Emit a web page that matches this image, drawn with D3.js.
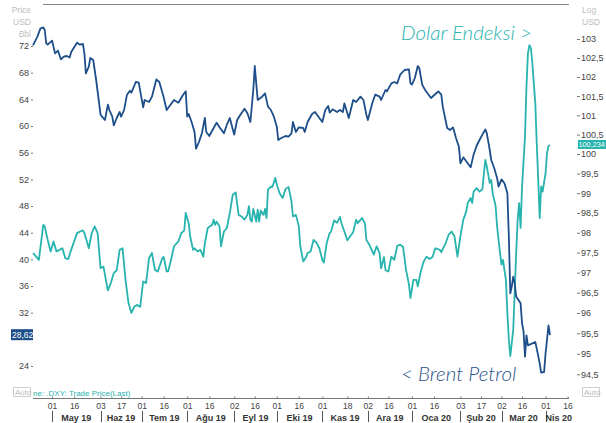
<!DOCTYPE html>
<html>
<head>
<meta charset="utf-8">
<script src="https://cdn.jsdelivr.net/npm/d3@7"></script>
<style>
  html, body { margin: 0; padding: 0; background: #fff; }
  svg { display: block; font-family: "Liberation Sans Narrow", "Liberation Sans", Arial, sans-serif; }
</style>
</head>
<body>
<div id="chart"></div>
<script>
// Brent (left axis, USD/Bbl)
const brentDates = [
  '2019-04-18','2019-04-21','2019-04-23','2019-04-25','2019-04-26','2019-04-27','2019-04-28','2019-05-01','2019-05-03','2019-05-05',
  '2019-05-07','2019-05-09','2019-05-11','2019-05-13','2019-05-14','2019-05-18','2019-05-20','2019-05-22','2019-05-23','2019-05-24',
  '2019-05-26','2019-05-27','2019-05-29','2019-05-31','2019-06-03','2019-06-04','2019-06-06','2019-06-08','2019-06-09','2019-06-11',
  '2019-06-12','2019-06-14','2019-06-16','2019-06-17','2019-06-19','2019-06-21','2019-06-23','2019-06-24','2019-06-27','2019-06-29',
  '2019-07-02','2019-07-03','2019-07-06','2019-07-08','2019-07-11','2019-07-13','2019-07-16','2019-07-18','2019-07-20','2019-07-23',
  '2019-07-26','2019-07-29','2019-07-31','2019-08-01','2019-08-02','2019-08-04','2019-08-06','2019-08-07','2019-08-09','2019-08-11',
  '2019-08-13','2019-08-14','2019-08-16','2019-08-19','2019-08-21','2019-08-23','2019-08-26','2019-08-28','2019-08-30','2019-09-02',
  '2019-09-04','2019-09-06','2019-09-09','2019-09-11','2019-09-13','2019-09-15','2019-09-16','2019-09-17','2019-09-18','2019-09-21',
  '2019-09-23','2019-09-25','2019-09-27','2019-09-29','2019-10-01','2019-10-02','2019-10-04','2019-10-07','2019-10-09','2019-10-11',
  '2019-10-12','2019-10-14','2019-10-16','2019-10-19','2019-10-20','2019-10-22','2019-10-25','2019-10-27','2019-10-29','2019-11-01',
  '2019-11-03','2019-11-05','2019-11-06','2019-11-08','2019-11-11','2019-11-13','2019-11-15','2019-11-16','2019-11-19','2019-11-22',
  '2019-11-24','2019-11-27','2019-11-29','2019-12-01','2019-12-02','2019-12-05','2019-12-07','2019-12-10','2019-12-11','2019-12-14',
  '2019-12-15','2019-12-18','2019-12-20','2019-12-22','2019-12-24','2019-12-27','2019-12-30','2019-12-31','2020-01-01','2020-01-03',
  '2020-01-05','2020-01-06','2020-01-08','2020-01-10','2020-01-13','2020-01-14','2020-01-17','2020-01-19','2020-01-21','2020-01-22',
  '2020-01-25','2020-01-27','2020-01-29','2020-01-31','2020-02-02','2020-02-03','2020-02-05','2020-02-07','2020-02-10','2020-02-12',
  '2020-02-14','2020-02-16','2020-02-18','2020-02-20','2020-02-21','2020-02-23','2020-02-24','2020-02-26','2020-02-28','2020-02-29',
  '2020-03-02','2020-03-04','2020-03-06','2020-03-07','2020-03-08','2020-03-09','2020-03-10','2020-03-11','2020-03-12','2020-03-13',
  '2020-03-15','2020-03-16','2020-03-17','2020-03-18','2020-03-19','2020-03-20','2020-03-23','2020-03-25','2020-03-26','2020-03-28',
  '2020-03-29','2020-03-31','2020-04-01','2020-04-03','2020-04-04'
]
const brentValues = [
  72.1, 73.4, 74.6, 74.8, 74.4, 72.4, 72.2, 72.8, 70.9, 71.3,
  70.0, 70.4, 70.5, 70.3, 71.1, 72.5, 72.2, 72.3, 70.9, 67.9,
  68.9, 70.2, 69.9, 66.9, 61.7, 61.4, 60.9, 63.2, 62.4, 61.4,
  60.1, 61.2, 62.1, 61.4, 62.4, 64.7, 65.3, 65.0, 66.6, 66.5,
  62.8, 63.9, 63.6, 64.4, 67.0, 66.6, 64.3, 62.4, 63.0, 63.9,
  63.5, 64.6, 65.2, 61.4, 61.8, 60.6, 59.1, 56.6, 57.6, 58.9,
  61.2, 59.1, 58.5, 59.7, 60.5, 59.8, 58.9, 60.2, 61.2, 58.7,
  60.9, 61.6, 62.6, 61.9, 60.6, 65.4, 69.0, 66.4, 63.9, 64.4,
  64.9, 62.9, 62.4, 61.4, 59.9, 57.9, 58.2, 58.5, 58.4, 58.9,
  60.6, 59.1, 59.8, 59.7, 59.1, 60.6, 61.8, 62.1, 61.5, 60.6,
  62.4, 63.0, 62.0, 62.5, 62.1, 62.4, 62.1, 63.4, 61.2, 63.9,
  63.6, 64.4, 63.9, 61.7, 60.9, 63.4, 64.7, 64.4, 63.9, 65.4,
  65.2, 66.4, 66.6, 66.4, 67.7, 68.4, 68.5, 66.4, 66.2, 67.2,
  69.0, 68.7, 66.2, 65.4, 64.5, 64.2, 64.8, 65.2, 64.7, 62.9,
  59.7, 59.4, 59.8, 58.2, 56.9, 54.4, 55.3, 54.7, 53.8, 55.7,
  57.0, 57.9, 58.7, 59.5, 58.9, 56.4, 54.9, 53.7, 52.2, 50.9,
  52.0, 51.4, 49.9, 43.4, 34.9, 35.9, 37.4, 36.4, 34.4, 34.1,
  33.4, 30.4, 29.2, 25.4, 28.6, 27.1, 27.4, 27.6, 26.6, 24.4,
  23.0, 23.1, 25.9, 30.1, 28.62
]

// Dolar Endeksi (right axis, log)
const dxyDates = [
  '2019-04-18','2019-04-19','2019-04-22','2019-04-25','2019-04-26','2019-04-28','2019-04-30','2019-05-02','2019-05-04','2019-05-06',
  '2019-05-08','2019-05-10','2019-05-12','2019-05-14','2019-05-18','2019-05-20','2019-05-22','2019-05-23','2019-05-26','2019-05-28',
  '2019-05-30','2019-06-01','2019-06-03','2019-06-05','2019-06-07','2019-06-08','2019-06-10','2019-06-12','2019-06-14','2019-06-16',
  '2019-06-18','2019-06-20','2019-06-22','2019-06-24','2019-06-26','2019-06-28','2019-06-30','2019-07-02','2019-07-04','2019-07-06',
  '2019-07-08','2019-07-10','2019-07-12','2019-07-15','2019-07-16','2019-07-18','2019-07-19','2019-07-21','2019-07-23','2019-07-26',
  '2019-07-28','2019-07-30','2019-07-31','2019-08-02','2019-08-03','2019-08-05','2019-08-06','2019-08-08','2019-08-10','2019-08-12',
  '2019-08-13','2019-08-15','2019-08-18','2019-08-19','2019-08-20','2019-08-21','2019-08-23','2019-08-24','2019-08-26','2019-08-28',
  '2019-08-30','2019-09-01','2019-09-03','2019-09-05','2019-09-07','2019-09-09','2019-09-11','2019-09-12','2019-09-13','2019-09-14',
  '2019-09-15','2019-09-17','2019-09-18','2019-09-19','2019-09-20','2019-09-22','2019-09-23','2019-09-24','2019-09-25','2019-09-27',
  '2019-09-28','2019-09-30','2019-10-01','2019-10-03','2019-10-05','2019-10-07','2019-10-09','2019-10-11','2019-10-12','2019-10-14',
  '2019-10-16','2019-10-17','2019-10-19','2019-10-21','2019-10-22','2019-10-24','2019-10-26','2019-10-28','2019-10-30','2019-11-01',
  '2019-11-02','2019-11-04','2019-11-06','2019-11-07','2019-11-09','2019-11-11','2019-11-13','2019-11-14','2019-11-16','2019-11-18',
  '2019-11-20','2019-11-22','2019-11-24','2019-11-25','2019-11-28','2019-11-30','2019-12-01','2019-12-03','2019-12-06','2019-12-08',
  '2019-12-10','2019-12-11','2019-12-13','2019-12-14','2019-12-16','2019-12-18','2019-12-20','2019-12-22','2019-12-24','2019-12-26',
  '2019-12-28','2019-12-30','2019-12-31','2020-01-02','2020-01-04','2020-01-05','2020-01-07','2020-01-09','2020-01-11','2020-01-13',
  '2020-01-15','2020-01-17','2020-01-20','2020-01-21','2020-01-24','2020-01-26','2020-01-28','2020-01-30','2020-02-01','2020-02-03',
  '2020-02-05','2020-02-07','2020-02-08','2020-02-10','2020-02-11','2020-02-12','2020-02-14','2020-02-16','2020-02-18','2020-02-19',
  '2020-02-20','2020-02-21','2020-02-23','2020-02-24','2020-02-25','2020-02-27','2020-02-28','2020-03-01','2020-03-02','2020-03-03',
  '2020-03-05','2020-03-06','2020-03-07','2020-03-08','2020-03-10','2020-03-11','2020-03-12','2020-03-13','2020-03-14','2020-03-15',
  '2020-03-16','2020-03-18','2020-03-19','2020-03-20','2020-03-21','2020-03-22','2020-03-23','2020-03-25','2020-03-26','2020-03-27',
  '2020-03-28','2020-03-29','2020-03-30','2020-04-01','2020-04-02','2020-04-03','2020-04-04'
]
const dxyValues = [
  97.49, 97.45, 97.32, 98.20, 98.16, 97.82, 97.53, 97.78, 97.53, 97.57,
  97.61, 97.36, 97.34, 97.57, 97.99, 98.03, 98.06, 97.99, 97.61, 97.99,
  98.16, 97.99, 97.11, 97.15, 96.74, 96.56, 96.74, 96.99, 97.06, 97.57,
  97.61, 96.82, 96.25, 96.00, 96.16, 96.20, 96.15, 96.78, 96.74, 97.36,
  97.49, 97.07, 97.03, 97.36, 97.39, 97.03, 97.03, 97.32, 97.66, 97.78,
  97.99, 98.06, 98.50, 98.24, 97.91, 97.57, 97.61, 97.53, 97.57, 97.40,
  97.74, 98.12, 98.20, 98.33, 98.20, 98.28, 98.16, 97.66, 98.03, 98.12,
  98.50, 98.96, 99.02, 98.45, 98.41, 98.33, 98.45, 98.67, 98.33, 98.28,
  98.60, 98.28, 98.58, 98.28, 98.56, 98.45, 98.60, 98.37, 99.09, 99.17,
  99.16, 99.39, 99.22, 98.99, 98.88, 99.11, 99.16, 98.79, 98.41, 98.45,
  98.16, 97.66, 97.28, 97.39, 97.49, 97.53, 97.82, 97.75, 97.61, 97.32,
  97.25, 97.74, 97.99, 98.03, 98.31, 98.25, 98.40, 98.24, 98.03, 97.81,
  97.91, 98.01, 98.33, 98.24, 98.37, 98.24, 97.82, 97.70, 97.45, 97.66,
  97.49, 97.11, 97.39, 97.06, 97.03, 97.40, 97.32, 97.67, 97.70, 97.64,
  97.07, 96.70, 96.37, 96.82, 96.82, 96.66, 97.03, 97.28, 97.40, 97.34,
  97.39, 97.61, 97.57, 97.51, 97.74, 97.95, 98.03, 97.91, 97.40, 97.91,
  98.33, 98.54, 98.75, 98.88, 98.75, 99.04, 99.13, 99.04, 99.10, 99.50,
  99.85, 99.68, 99.26, 99.34, 99.00, 98.67, 98.16, 97.49, 97.20, 97.32,
  96.82, 96.00, 95.34, 94.94, 95.59, 96.57, 97.49, 98.33, 98.75, 98.12,
  99.17, 100.45, 101.75, 102.62, 102.84, 102.76, 102.36, 101.32, 100.28, 99.34,
  98.37, 99.17, 99.04, 99.51, 100.03, 100.21, 100.234
]

// 28 sits behind the last-value box in the reference, so it is not labelled
const leftTicks = [24, 32, 36, 40, 44, 48, 52, 56, 60, 64, 68, 72]
const rightTicks = [94.5, 95, 95.5, 96, 96.5, 97, 97.5, 98, 98.5, 99, 99.5, 100, 100.5, 101, 101.5, 102, 102.5, 103]
const dayTicks = [
  '2019-05-01','2019-05-16','2019-06-03','2019-06-17','2019-07-01','2019-07-16','2019-08-01','2019-08-16',
  '2019-09-02','2019-09-16','2019-10-01','2019-10-16','2019-11-01','2019-11-18','2019-12-02','2019-12-16',
  '2020-01-01','2020-01-16','2020-02-03','2020-02-17','2020-03-02','2020-03-16','2020-04-01','2020-04-16'
]
const monthStarts = ['2019-05-01','2019-06-03','2019-07-01','2019-08-01','2019-09-02','2019-10-01','2019-11-01','2019-12-02','2020-01-01','2020-02-03','2020-03-02','2020-04-01']
const monthLabels = ['May 19','Haz 19','Tem 19','Ağu 19','Eyl 19','Eki 19','Kas 19','Ara 19','Oca 20','Şub 20','Mar 20','Nis 20']

const width = 606
const height = 423
const brentColor = '#1d4e89'
const dxyColor = '#27b3ae'
const parse = d3.timeParse('%Y-%m-%d')

const svg = d3.select('#chart').append('svg')
  .attr('width', width)
  .attr('height', height)

const x = d3.scaleTime()
  .domain([parse('2019-04-18'), parse('2020-04-19')])
  .range([33, 572])
const yL = d3.scaleLinear().domain([24, 72]).range([366, 46])
const yR = d3.scaleLog().domain([94.5, 103]).range([374.3, 39])

// top frame line
svg.append('line')
  .attr('x1', 43).attr('x2', 569).attr('y1', 4.5).attr('y2', 4.5)
  .attr('stroke', '#8a8a8a').attr('stroke-width', 1)

// left axis
const leftAxis = svg.append('g')
  .attr('transform', 'translate(33,0)')
  .call(d3.axisLeft(yL).tickValues(leftTicks).tickSize(2).tickPadding(2).tickFormat(d3.format('d')))
leftAxis.select('.domain').remove()
leftAxis.selectAll('line').attr('stroke', '#777')
leftAxis.selectAll('text').attr('fill', '#444').style('font-size', '9px')

// right axis
const commaFmt = d => String(d).replace('.', ',')
const rightAxis = svg.append('g')
  .attr('transform', 'translate(577,0)')
  .call(d3.axisRight(yR).tickValues(rightTicks).tickSize(3).tickPadding(1).tickFormat(commaFmt))
rightAxis.select('.domain').remove()
rightAxis.selectAll('line').attr('stroke', '#777')
rightAxis.selectAll('text').attr('fill', '#444').style('font-size', '9px')

// bottom axis
const bottom = svg.append('g')
  .attr('transform', 'translate(0,398.5)')
  .call(d3.axisTop(x).tickValues(dayTicks.map(parse)).tickSize(2).tickFormat(d3.timeFormat('%d')))
bottom.select('.domain').attr('d', 'M33,0H569').attr('stroke', '#777')
bottom.selectAll('line').attr('stroke', '#777')
bottom.selectAll('text')
  .attr('y', 10).attr('dy', 0)
  .attr('fill', '#444').style('font-size', '8.5px')

const starts = monthStarts.map(parse)
const ends = starts.slice(1).concat([x.domain()[1]])
svg.append('g').selectAll('line')
  .data(starts)
  .join('line')
  .attr('x1', d => Math.round(x(d)) + 0.5).attr('x2', d => Math.round(x(d)) + 0.5)
  .attr('y1', 411).attr('y2', 422)
  .attr('stroke', '#555')
svg.append('g').selectAll('text')
  .data(monthLabels)
  .join('text')
  .attr('x', (d, i) => (x(starts[i]) + x(ends[i])) / 2)
  .attr('y', 421)
  .attr('text-anchor', 'middle')
  .attr('font-weight', 'bold')
  .attr('fill', '#333')
  .style('font-size', '9px')
  .text(d => d)

// series
const brent = brentDates.map((d, i) => ({ date: parse(d), value: brentValues[i] }))
const dxy = dxyDates.map((d, i) => ({ date: parse(d), value: dxyValues[i] }))

svg.append('path')
  .datum(dxy)
  .attr('fill', 'none')
  .attr('stroke', dxyColor)
  .attr('stroke-width', 1.8)
  .attr('stroke-linejoin', 'round')
  .attr('d', d3.line().x(d => x(d.date)).y(d => yR(d.value)))

svg.append('path')
  .datum(brent)
  .attr('fill', 'none')
  .attr('stroke', brentColor)
  .attr('stroke-width', 1.8)
  .attr('stroke-linejoin', 'round')
  .attr('d', d3.line().x(d => x(d.date)).y(d => yL(d.value)))

// last value boxes
const lastBrent = brent[brent.length - 1].value
const lastDxy = dxy[dxy.length - 1].value
svg.append('rect')
  .attr('x', 11).attr('y', yL(lastBrent) - 6).attr('width', 22).attr('height', 11)
  .attr('fill', brentColor)
svg.append('text')
  .attr('x', 12).attr('y', yL(lastBrent) + 3)
  .attr('fill', '#fff').style('font-size', '8.5px')
  .text(commaFmt(lastBrent))
svg.append('rect')
  .attr('x', 578).attr('y', yR(lastDxy) - 5).attr('width', 28).attr('height', 9)
  .attr('fill', dxyColor)
svg.append('text')
  .attr('x', 578.5).attr('y', yR(lastDxy) + 2.5)
  .attr('fill', '#fff').style('font-size', '7.3px')
  .text(commaFmt(lastDxy))

// unit captions
const leftCap = ['Price', 'USD', 'Bbl']
leftCap.forEach((t, i) => {
  svg.append('text')
    .attr('x', 31).attr('y', 13 + i * 12)
    .attr('text-anchor', 'end')
    .attr('fill', '#bdbdbd').style('font-size', '8.5px')
    .text(t)
})
const rightCap = ['Log', 'USD']
rightCap.forEach((t, i) => {
  svg.append('text')
    .attr('x', 582).attr('y', 13 + i * 12)
    .attr('fill', '#bdbdbd').style('font-size', '8.5px')
    .text(t)
})

// series titles
svg.append('text')
  .attr('x', 401).attr('y', 40)
  .attr('fill', dxyColor)
  .style('font-family', 'Lato, "Open Sans", sans-serif')
  .style('font-style', 'italic').style('font-weight', 300)
  .style('font-size', '20.5px')
  .text('Dolar Endeksi >')
svg.append('text')
  .attr('x', 401).attr('y', 381)
  .attr('fill', '#2b5189')
  .style('font-family', 'Lato, "Open Sans", sans-serif')
  .style('font-style', 'italic').style('font-weight', 300)
  .style('font-size', '20.5px')
  .text('< Brent Petrol')

// legend line (its start is hidden behind the Auto box) + Auto boxes
svg.append('text')
  .attr('x', 33).attr('y', 396)
  .attr('fill', dxyColor).style('font-size', '8px')
  .text('ne: .DXY: Trade Price(Last)')
;[13, 582].forEach(bx => {
  svg.append('rect')
    .attr('x', bx + 0.5).attr('y', 387.5).attr('width', 17).attr('height', 9)
    .attr('fill', '#fff').attr('stroke', '#cfcfcf')
  svg.append('text')
    .attr('x', bx + 2).attr('y', 395)
    .attr('fill', '#bbb').style('font-size', '8px')
    .text('Auto')
})
</script>
</body>
</html>
